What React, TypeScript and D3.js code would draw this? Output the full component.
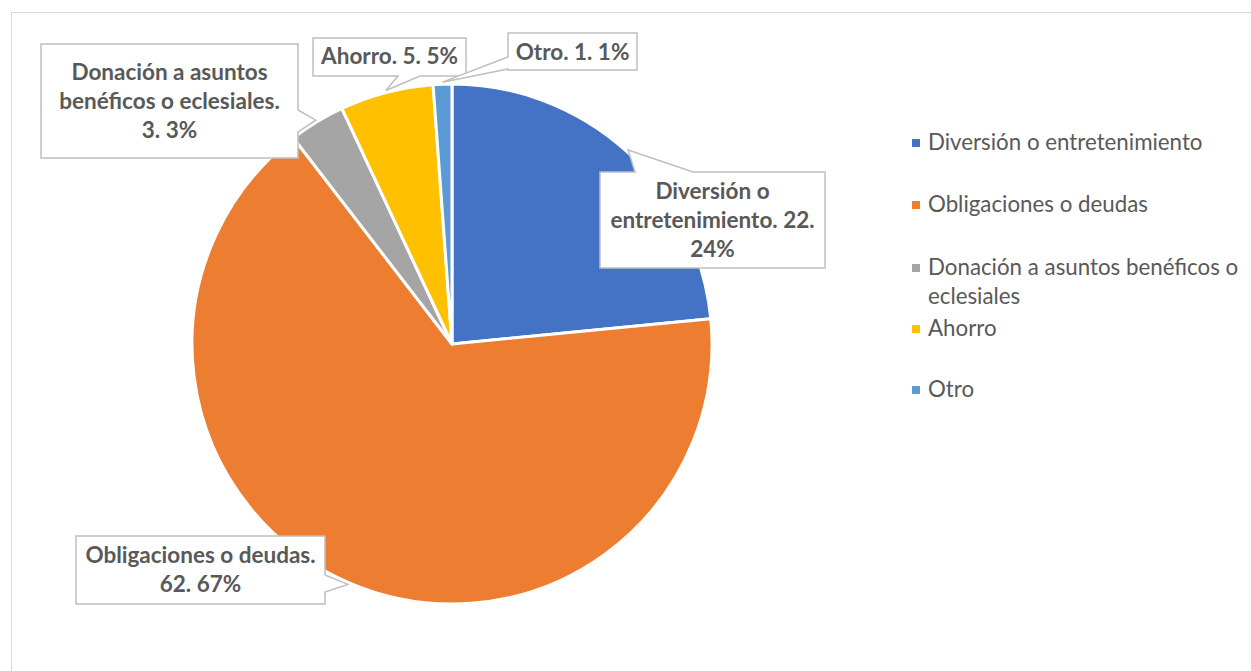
import React from 'react';
import * as d3 from 'd3';

const categories = [
  'Diversión o entretenimiento',
  'Obligaciones o deudas',
  'Donación a asuntos benéficos o eclesiales',
  'Ahorro',
  'Otro',
];
const values = [22.24, 62.67, 3.3, 5.5, 1.1];
const colors = ['#4472C4', '#ED7D31', '#A5A5A5', '#FFC000', '#5B9BD5'];

// label text lines (category + value, wrapped as in the original)
const labelLines = [
  ['Diversión o', 'entretenimiento. 22.', '24%'],
  ['Obligaciones o deudas.', '62. 67%'],
  ['Donación a asuntos', 'benéficos o eclesiales.', '3. 3%'],
  ['Ahorro. 5. 5%'],
  ['Otro. 1. 1%'],
];
const legendLines = [
  ['Diversión o entretenimiento'],
  ['Obligaciones o deudas'],
  ['Donación a asuntos benéficos o', 'eclesiales'],
  ['Ahorro'],
  ['Otro'],
];

// callout layout: box + pointer base on one side
const callouts = [
  { x: 600, y: 172, w: 225, h: 96, side: 'top', a: 635, b: 693, base: 199 },
  { x: 76, y: 536, w: 249, h: 68, side: 'right', a: 575, b: 592, base: 563 },
  { x: 41, y: 44, w: 257, h: 114, side: 'right', a: 110, b: 132, base: 80 },
  { x: 313, y: 38, w: 153, h: 38, side: 'bottom', a: 398, b: 420, base: 64 },
  { x: 508, y: 33, w: 129, h: 37, side: 'left', a: 57, b: 69, base: 60 },
];

const W = 1251;
const H = 671;
const cx = 452;
const cy = 344;
const R = 260;
const font = 'Lato, "Noto Sans", sans-serif';
const textColor = '#595959';

function calloutPath(c: any, tip: [number, number]) {
  const { x, y, w, h, side, a, b } = c;
  const p: string[] = [`M${x},${y}`];
  if (side === 'top') p.push(`L${a},${y}`, `L${tip[0]},${tip[1]}`, `L${b},${y}`);
  p.push(`L${x + w},${y}`);
  if (side === 'right') p.push(`L${x + w},${a}`, `L${tip[0]},${tip[1]}`, `L${x + w},${b}`);
  p.push(`L${x + w},${y + h}`);
  if (side === 'bottom') p.push(`L${b},${y + h}`, `L${tip[0]},${tip[1]}`, `L${a},${y + h}`);
  p.push(`L${x},${y + h}`);
  if (side === 'left') p.push(`L${x},${b}`, `L${tip[0]},${tip[1]}`, `L${x},${a}`);
  p.push('Z');
  return p.join(' ');
}

export default function App() {
  const pie = d3.pie<number>().sort(null).value((d) => d);
  const arcs = pie(values);
  const arc = d3.arc<d3.PieArcDatum<number>>().innerRadius(0).outerRadius(R);
  const edge = d3.arc<d3.PieArcDatum<number>>().innerRadius(R + 2).outerRadius(R + 2);

  const legendY = [150, 212, 275, 336, 397];

  return (
    <svg
      width={W}
      height={H}
      style={{ position: 'absolute', left: 0, top: 0, background: '#fff' }}
    >
      <rect x={11.5} y={12.5} width={W + 20} height={H + 20} fill="#fff" stroke="#D9D9D9" strokeWidth={1} />
      <g transform={`translate(${cx},${cy})`}>
        {arcs.map((d, i) => (
          <path key={categories[i]} d={arc(d) as string} fill={colors[i]} stroke="#fff" strokeWidth={3} strokeLinejoin="round" />
        ))}
      </g>
      {callouts.map((c, i) => {
        const [tx, ty] = edge.centroid(arcs[i]);
        const tip: [number, number] = [cx + tx, cy + ty];
        const mid = c.x + c.w / 2;
        return (
          <g key={'c' + i}>
            <path d={calloutPath(c, tip)} fill="#fff" stroke="#BFBFBF" strokeWidth={1.5} />
            <text
              textAnchor="middle"
              fontFamily={font}
              fontWeight="bold"
              fontSize={22.5}
              fill={textColor}
            >
              {labelLines[i].map((l, j) => (
                <tspan key={j} x={mid} y={c.base + j * 29}>
                  {l}
                </tspan>
              ))}
            </text>
          </g>
        );
      })}
      {legendLines.map((lines, i) => (
        <g key={'l' + i}>
          <rect x={912} y={legendY[i] - 11} width={8} height={8} fill={colors[i]} />
          <text fontFamily={font} fontSize={22.3} fill={textColor}>
            {lines.map((l, j) => (
              <tspan key={j} x={928} y={legendY[i] + j * 29}>
                {l}
              </tspan>
            ))}
          </text>
        </g>
      ))}
    </svg>
  );
}
